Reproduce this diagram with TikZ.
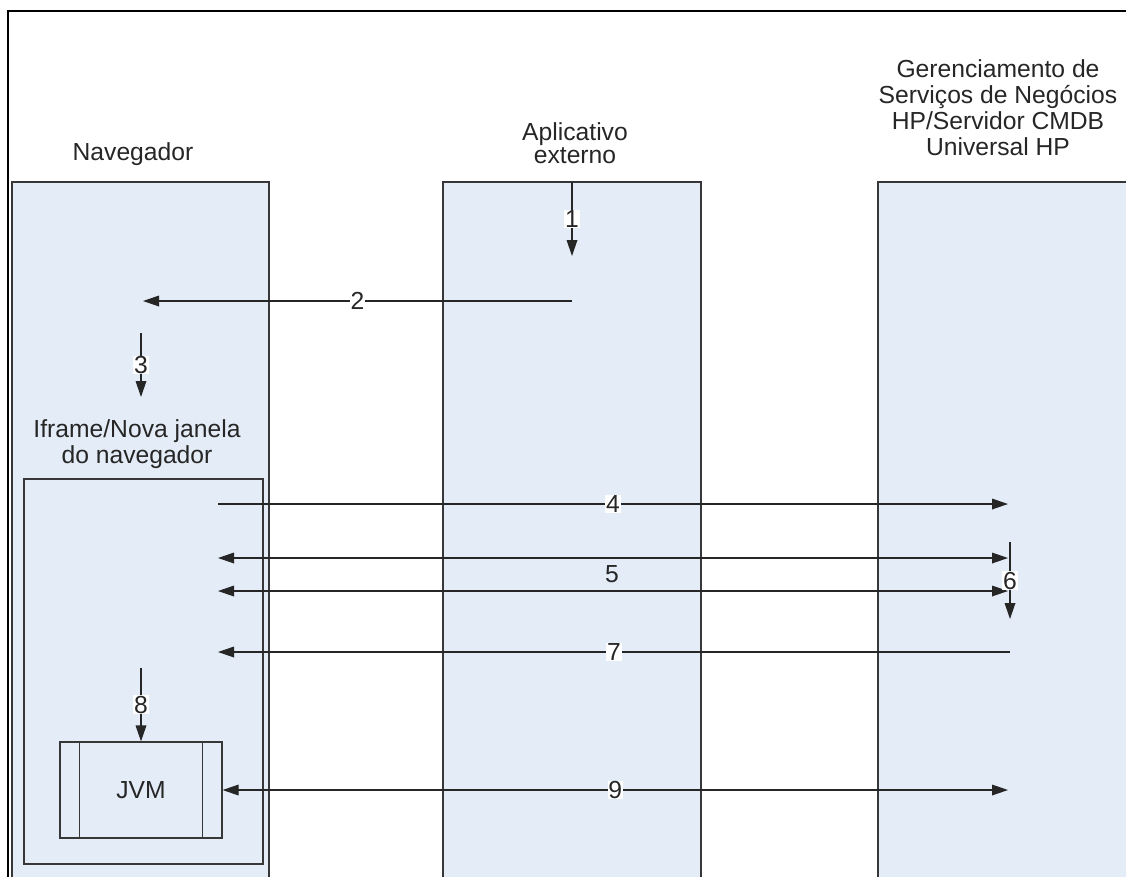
\documentclass[tikz,border=0pt]{standalone}
\usepackage{fontspec}
\setmainfont{Liberation Sans}
\usetikzlibrary{arrows.meta,fit}
\definecolor{lanefill}{RGB}{228,236,247}
\definecolor{lineg}{RGB}{55,55,55}

\begin{document}
\begin{tikzpicture}[x=0.75pt, y=-0.75pt, font=\fontsize{18.5}{19.5}\selectfont, text=black!85,
  lane/.style={draw=lineg, line width=1.1pt, fill=lanefill, inner sep=0pt},
  box/.style={draw=lineg, line width=0.9pt, inner sep=0pt},
  title/.style={align=center},
  num/.style={fill=white, inner sep=0.5pt},
  msg/.style={draw=black!85, line width=0.9pt},
  >={Triangle[length=12pt, width=8pt]}]
\useasboundingbox (0,0) rectangle (1126,876);
\clip (0,0) rectangle (1126,876);
\draw[line width=1.1pt] (8,900) |- (1140,11);
\node[lane, fit={(12,182) (269,900)}] (nav) {};
\node[lane, fit={(443,182) (701,900)}] (app) {};
\node[lane, fit={(878,182) (1140,900)}] (hp) {};
\node[title] (navT) at (133,154) {Navegador};
\node[title, font=\fontsize{18.5}{17.5}\selectfont] (appT) at (575,143) {Aplicativo\\externo};
\node[title] (hpT) at (998,108) {Gerenciamento de\\Serviços de Negócios\\HP/Servidor CMDB\\Universal HP};
\node[title] (ifrT) at (137,444) {Iframe/Nova janela\\do navegador};
\node[box, fit={(24,479) (263,864)}] (ifr) {};
\node[box, fill=lanefill, minimum width=121.5pt, minimum height=72pt] (jvm) at (141,790) {JVM};
\draw[box] ([xshift=15pt]jvm.north west) -- ([xshift=15pt]jvm.south west);
\draw[box] ([xshift=-15pt]jvm.north east) -- ([xshift=-15pt]jvm.south east);
\node (l5) at (612,574) {5};
\coordinate (a1s) at (572,182); \coordinate (a1e) at (572,256);
\coordinate (a2s) at (572,301); \coordinate (a2e) at (143,301);
\coordinate (a3s) at (141,333); \coordinate (a3e) at (141,397);
\coordinate (a4s) at (218,504); \coordinate (a4e) at (1008,504);
\coordinate (a5s) at (218,558); \coordinate (a5e) at (1008,558);
\coordinate (b5s) at (218,591); \coordinate (b5e) at (1008,591);
\coordinate (a6s) at (1010,542); \coordinate (a6e) at (1010,619);
\coordinate (a7s) at (1010,652); \coordinate (a7e) at (218,652);
\coordinate (a8s) at (141,668);
\coordinate (a9e) at (1008,790);
\draw[msg,->] (a1s) -- node[num] {1} (a1e);
\draw[msg,->] (a2s) -- node[num] {2} (a2e);
\draw[msg,->] (a3s) -- node[num] {3} (a3e);
\draw[msg,->] (a4s) -- node[num] {4} (a4e);
\draw[msg,<->] (a5s) -- (a5e);
\draw[msg,<->] (b5s) -- (b5e);
\draw[msg,->] (a6s) -- node[num] {6} (a6e);
\draw[msg,->] (a7s) -- node[num] {7} (a7e);
\draw[msg,->] (a8s) -- node[num] {8} (jvm.north);
\draw[msg,<->] (jvm.east) -- node[num] {9} (a9e);
\end{tikzpicture}
\end{document}
